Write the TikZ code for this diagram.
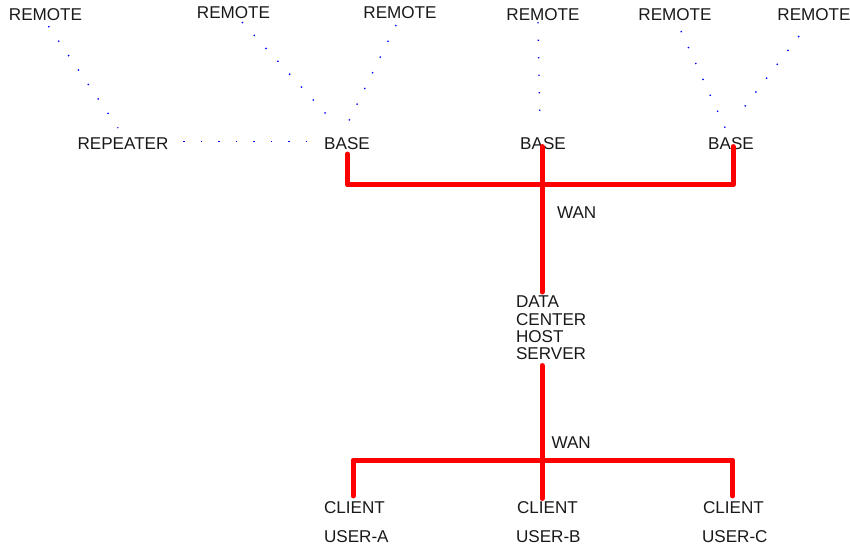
\documentclass[tikz,border=0pt]{standalone}
\usepackage{fontspec}
\setmainfont{Liberation Sans}
\usetikzlibrary{calc}
\begin{document}
\begin{tikzpicture}[x=1pt,y=-1pt,
  lbl/.style={inner sep=0pt,outer sep=0pt,font=\fontsize{17.1}{17.3}\selectfont,text=black!90},
  wan/.style={draw=red,line width=5pt,line cap=round,line join=round},
  radio/.style={draw=blue,line width=1.4pt,dash pattern=on 1.3pt off 16.2pt}]
\useasboundingbox (0,0) rectangle (850,545);
% remotes
\node[lbl] (r1) at (45.5,14.5) {REMOTE};
\node[lbl] (r2) at (233.5,13) {REMOTE};
\node[lbl] (r3) at (400,13) {REMOTE};
\node[lbl] (r4) at (543,15) {REMOTE};
\node[lbl] (r5) at (675,15) {REMOTE};
\node[lbl] (r6) at (814,15) {REMOTE};
% repeater and bases
\node[lbl] (rep) at (123,143.5) {REPEATER};
\node[lbl] (b1) at (347,143.5) {BASE};
\node[lbl] (b2) at (543,143.5) {BASE};
\node[lbl] (b3) at (731,143.5) {BASE};
% WAN labels
\node[lbl,anchor=west] (w1) at (557,213) {WAN};
\node[lbl,anchor=west] (w2) at (551.5,442.5) {WAN};
% data center
\node[lbl,anchor=north west,align=left] (dc) at (516,296) {DATA\\CENTER\\HOST\\SERVER};
% clients
\node[lbl,anchor=west] (c1) at (324,508) {CLIENT};
\node[lbl,anchor=west] (c2) at (517,508) {CLIENT};
\node[lbl,anchor=west] (c3) at (703,508) {CLIENT};
\node[lbl,anchor=west] (u1) at (324,536.5) {USER-A};
\node[lbl,anchor=west] (u2) at (516,536.5) {USER-B};
\node[lbl,anchor=west] (u3) at (702,536.5) {USER-C};
% junctions
\coordinate (j1) at (542,185);
\coordinate (j2) at (542,460);
% radio links
\draw[radio] ([xshift=3pt,yshift=-5.6pt]r1.south) -- ([xshift=-5pt,yshift=9.6pt]rep.north);
\draw[radio] ([xshift=15pt,yshift=1.8pt]rep.east) -- ([xshift=-17pt,yshift=1.8pt]b1.west);
\draw[radio] ([xshift=8.5pt,yshift=-3pt]r2.south) -- ([xshift=-11pt,yshift=12.6pt]b1.north);
\draw[radio] ([xshift=-4pt,yshift=-6pt]r3.south) -- ([xshift=-5pt,yshift=2.6pt]b1.north);
\draw[radio] ([xshift=-5pt,yshift=-1pt]r4.south) -- ([xshift=-3pt,yshift=11.6pt]b2.north);
\draw[radio] ([xshift=6pt,yshift=-10pt]r5.south) -- ([xshift=-5pt,yshift=7.6pt]b3.north);
\draw[radio] ([xshift=-15pt,yshift=-15pt]r6.south) -- ([xshift=5pt,yshift=19.6pt]b3.north);
% WAN upper
\draw[wan] ([xshift=0.5pt,yshift=-4.5pt]b1.south) |- (j1) -| ([xshift=2pt,yshift=3pt]b3.south);
\draw[wan] ([yshift=3pt]b2.south -| j1) -- ([yshift=4pt]dc.north -| j1);
% WAN lower
\draw[wan] ([yshift=-5.7pt]dc.south -| j2) -- ([yshift=3.5pt]c2.north -| j2);
\draw[wan] ([xshift=-1.3pt,yshift=6pt]c1.north) |- (j2) -| ([xshift=-1pt,yshift=6pt]c3.north);
\end{tikzpicture}
\end{document}
